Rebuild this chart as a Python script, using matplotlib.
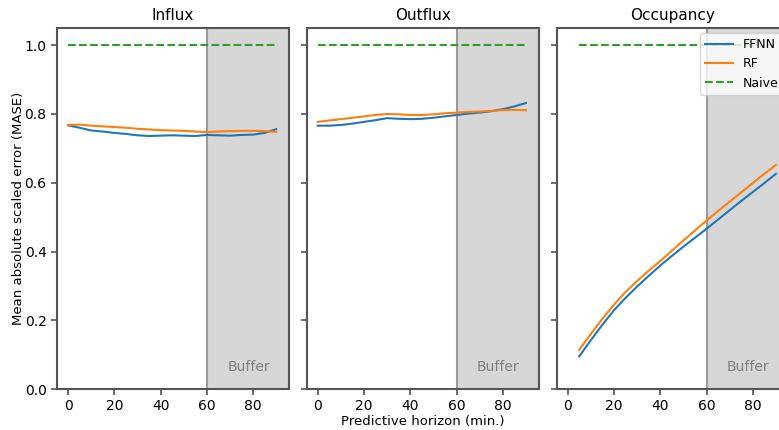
import numpy as np
import matplotlib
matplotlib.use('Agg')
import matplotlib.pyplot as plt

# ---------------------------------------------------------------------------
# Data
# ---------------------------------------------------------------------------
horizon = [0, 5, 10, 15, 20, 25, 30, 35, 40, 45, 50, 55, 60, 65, 70, 75, 80, 85, 90]
horizon_occ = horizon[1:]

influx_ffnn = [0.767, 0.760, 0.752, 0.749, 0.745, 0.742, 0.738, 0.736, 0.737, 0.738,
               0.737, 0.736, 0.739, 0.738, 0.737, 0.739, 0.740, 0.745, 0.756]
influx_rf = [0.768, 0.769, 0.766, 0.764, 0.762, 0.760, 0.757, 0.755, 0.753, 0.752,
             0.751, 0.749, 0.747, 0.749, 0.750, 0.751, 0.751, 0.750, 0.748]

outflux_ffnn = [0.766, 0.766, 0.768, 0.772, 0.777, 0.782, 0.788, 0.786, 0.785, 0.786,
                0.789, 0.793, 0.797, 0.801, 0.804, 0.808, 0.814, 0.822, 0.832]
outflux_rf = [0.777, 0.781, 0.785, 0.789, 0.793, 0.797, 0.800, 0.799, 0.797, 0.797,
              0.799, 0.802, 0.804, 0.806, 0.807, 0.809, 0.811, 0.812, 0.811]

occ_ffnn = [0.095, 0.142, 0.187, 0.229, 0.265, 0.298, 0.329, 0.359, 0.387, 0.414,
            0.440, 0.466, 0.493, 0.520, 0.547, 0.573, 0.599, 0.626]
occ_rf = [0.114, 0.160, 0.204, 0.245, 0.282, 0.314, 0.344, 0.372, 0.402, 0.432,
          0.461, 0.490, 0.518, 0.545, 0.572, 0.599, 0.626, 0.652]

naive_level = 1.0
buffer_start = 60

panels = [
    ('Influx', horizon, influx_ffnn, influx_rf),
    ('Outflux', horizon, outflux_ffnn, outflux_rf),
    ('Occupancy', horizon_occ, occ_ffnn, occ_rf),
]

# ---------------------------------------------------------------------------
# Figure
# ---------------------------------------------------------------------------
fig = plt.figure(figsize=(7.79, 4.30), dpi=100)

lefts = [0.0732, 0.3937, 0.7146]
width, bottom, height = 0.2978, 0.0953, 0.8395
xlim = (-4.75, 95.5)

axes = []
for i, left in enumerate(lefts):
    ax = fig.add_axes([left, bottom, width, height],
                      sharey=axes[0] if axes else None)
    axes.append(ax)

for i, (ax, (title, x, ffnn, rf)) in enumerate(zip(axes, panels)):
    ax.axvspan(buffer_start, xlim[1], facecolor='#d7d7d7', edgecolor='none', zorder=0)
    ax.axvline(buffer_start, color='#9a9a9a', linewidth=1.5, zorder=1)

    ax.plot(x, ffnn, color='#1f77b4', linewidth=1.5, label='FFNN')
    ax.plot(x, rf, color='#ff7f0e', linewidth=1.5, label='RF')
    ax.plot(x, [naive_level] * len(x), color='#2ca02c', linestyle='--',
            linewidth=1.5, label='Naive')

    ax.text(78, 0.064, 'Buffer', color='#808080', fontsize=10,
            ha='center', va='center')

    ax.set_title(title, fontsize=11)
    ax.set_xlim(*xlim)
    ax.set_ylim(0, 1.05)
    ax.set_xticks([0, 20, 40, 60, 80])
    ax.set_yticks([0.0, 0.2, 0.4, 0.6, 0.8, 1.0])
    ax.tick_params(labelsize=10, color='#555555', width=1.2, length=4)
    for s in ax.spines.values():
        s.set_color('#555555')
        s.set_linewidth(1.5)
    if i > 0:
        ax.tick_params(labelleft=False)

axes[0].set_ylabel('Mean absolute scaled error (MASE)', fontsize=9.5, labelpad=0)
axes[1].set_xlabel('Predictive horizon (min.)', fontsize=9.5, labelpad=1)

axes[2].legend(loc='upper right', fontsize=9, framealpha=0.8,
               handlelength=2.2, borderaxespad=0.4)

fig.savefig('out.png', dpi=100)
